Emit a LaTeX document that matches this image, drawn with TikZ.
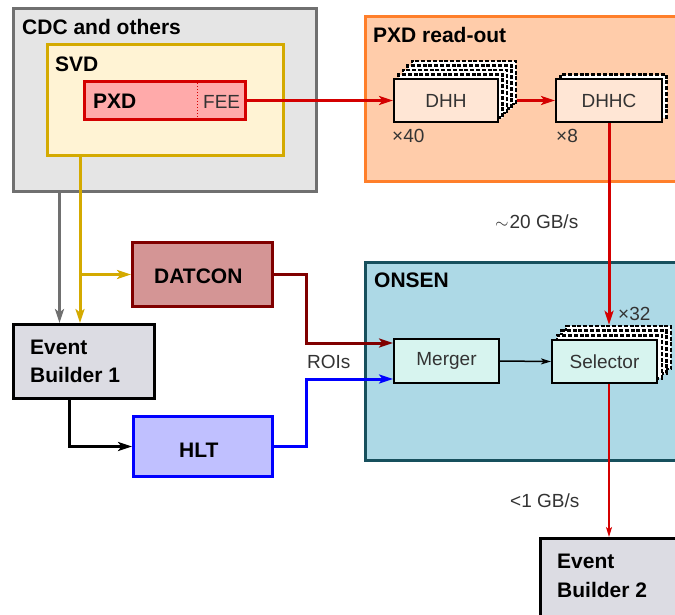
\documentclass[tikz,border=0pt]{standalone}
\usepackage{fontspec}
\setmainfont{Liberation Sans}
\usetikzlibrary{arrows.meta}
\definecolor{cdcline}{HTML}{707070}
\definecolor{cdcfill}{HTML}{E5E5E5}
\definecolor{svdline}{HTML}{D4AA00}
\definecolor{svdfill}{HTML}{FFF3D4}
\definecolor{pxdline}{HTML}{D40000}
\definecolor{pxdfill}{HTML}{FFAAAA}
\definecolor{roline}{HTML}{FF7F2A}
\definecolor{rofill}{HTML}{FFCCAA}
\definecolor{dhhfill}{HTML}{FFE6D5}
\definecolor{onsline}{HTML}{17505D}
\definecolor{onsfill}{HTML}{ADD9E6}
\definecolor{mfill}{HTML}{D7F4EF}
\definecolor{datline}{HTML}{800000}
\definecolor{datfill}{HTML}{D49595}
\definecolor{hltline}{HTML}{0000FF}
\definecolor{hltfill}{HTML}{C0C0FF}
\definecolor{ebfill}{HTML}{DCDCE3}
\definecolor{txtgray}{HTML}{333333}
\newcommand\lblbold{\fontsize{21}{25}\selectfont\bfseries}
\newcommand\lbltitle{\fontsize{21}{25}\selectfont\bfseries}
\newcommand\lblnorm{\fontsize{19}{23}\selectfont}
\begin{document}
\begin{tikzpicture}[x=1pt,y=-1pt,
  box/.style={draw, line width=3pt, inner sep=0pt},
  smallbox/.style={draw=black, line width=2pt, inner sep=0pt},
  backbox/.style={draw=black, fill=white, line width=2.4pt, inner sep=0pt,
     dash pattern=on 4pt off 1.8pt},
  tb/.style={inner sep=0pt, font=\lblbold, text=black},
  tt/.style={inner sep=0pt, font=\lbltitle, text=black},
  tn/.style={inner sep=0pt, font=\lblnorm, text=txtgray},
  thick arrow/.style={line width=3pt, -{Stealth[length=14pt,width=9pt,inset=3.5pt]}},
  thin arrow/.style={line width=1.5pt, -{Stealth[length=10pt,width=6pt,inset=2.5pt]}}]
\useasboundingbox (0,0) rectangle (675,614);
\clip (0,0) rectangle (675,614);
\fill[white] (0,0) rectangle (675,614);

% containers
\node[box, draw=cdcline, fill=cdcfill, minimum width=303pt, minimum height=183pt] (CDC) at (165,100) {};
\node[box, draw=svdline, fill=svdfill, minimum width=236pt, minimum height=111pt] (SVD) at (165.5,100) {};
\node[box, draw=pxdline, fill=pxdfill, minimum width=161pt, minimum height=38pt] (PXD) at (165,100.5) {};
\draw[pxdline, line width=1pt, dotted] ([xshift=114.5pt]PXD.north west) -- ([xshift=114.5pt]PXD.south west);
\node[box, draw=roline, fill=rofill, minimum width=354.5pt, minimum height=165pt] (RO) at (542.75,99) {};
\node[box, draw=onsline, fill=onsfill, minimum width=354.5pt, minimum height=198pt] (ONS) at (542.75,361.5) {};

% stacked boards
\foreach \k in {4,3,2,1}
  \node[backbox, minimum width=104pt, minimum height=43pt] (DHHb\k) at (446+4.5*\k,100.5-4.5*\k) {};
\node[smallbox, fill=dhhfill, minimum width=104pt, minimum height=43pt] (DHH) at (446,100.5) {};
\node[backbox, minimum width=106pt, minimum height=43pt] (DHHCb1) at (613.5,96) {};
\node[smallbox, fill=dhhfill, minimum width=106pt, minimum height=43pt] (DHHC) at (609,100.5) {};
\foreach \k in {3,2,1}
  \node[backbox, minimum width=105pt, minimum height=43pt] (SELb\k) at (604.5+4.7*\k,361.5-4.7*\k) {};
\node[smallbox, fill=mfill, minimum width=105pt, minimum height=43pt] (SEL) at (604.5,361.5) {};
\node[smallbox, fill=mfill, minimum width=105pt, minimum height=44pt] (MRG) at (446.5,361) {};

% left side boxes
\node[box, draw=datline, fill=datfill, minimum width=140pt, minimum height=64pt] (DAT) at (202.5,274.5) {};
\node[box, draw=hltline, fill=hltfill, minimum width=139pt, minimum height=60pt] (HLT) at (203,446.5) {};
\node[box, draw=black, fill=ebfill, minimum width=141pt, minimum height=74pt] (EB1) at (84,361.5) {};
\node[box, draw=black, fill=ebfill, minimum width=179.5pt, minimum height=121.5pt] (EB2) at (630.25,599.25) {};

% texts
\node[tt, anchor=base west] (tCDC) at (22,34) {CDC and others};
\node[tt, anchor=base west] (tSVD) at (55,71) {SVD};
\node[tb, anchor=base west] (tPXD) at (93,108) {PXD};
\node[tn, anchor=base west] (tFEE) at (203,108) {FEE};
\node[tt, anchor=base west] (tRO) at (373,42) {PXD read-out};
\node[tn] (tDHH) at (DHH) {DHH};
\node[tn, anchor=base west] (t40) at (392,142) {×40};
\node[tn] (tDHHC) at (DHHC) {DHHC};
\node[tn, anchor=base west] (t8) at (556,142) {×8};
\node[tn, anchor=base west] (t20) at (495,228) {$\sim$\kern1pt20 GB/s};
\node[tt, anchor=base west] (tONS) at (374,287) {ONSEN};
\node[tn] (tMRG) at (MRG) {Merger};
\node[tn] (tSEL) at (SEL) {Selector};
\node[tn, anchor=base west] (t32) at (618,320) {×32};
\node[tn, anchor=base west] (t1g) at (510,507) {<1 GB/s};
\node[tb, anchor=base west] (tEB2a) at (557,568) {Event};
\node[tb, anchor=base west] (tEB2b) at (557,597) {Builder 2};
\node[tb, anchor=base west] (tEB1a) at (30,354) {Event};
\node[tb, anchor=base west] (tEB1b) at (30,382) {Builder 1};
\node[tb, anchor=base west] (tDAT) at (154,283) {DATCON};
\node[tb, anchor=base west] (tHLT) at (179,457) {HLT};
\node[tn, anchor=base west] (tROI) at (307,368) {ROIs};

% connectors
\coordinate (gx) at (80,276);
\coordinate (rx) at (306,0);
\coordinate (m1) at ([yshift=18pt]MRG.west);
\coordinate (m2) at ([yshift=-18pt]MRG.west);
\draw[thick arrow, pxdline] (PXD.east) -- (DHH.west);
\draw[thick arrow, pxdline] (DHHb4.east |- DHH.east) -- (DHHC.west);
\draw[thick arrow, pxdline] (DHHC.south) -- (SELb3.north -| DHHC.south);
\draw[thin arrow, pxdline] (SEL.south -| DHHC.south) -- (EB2.north -| DHHC.south);
\draw[thin arrow, black] (MRG.east) -- (SEL.west);
\draw[thick arrow, cdcline] ([xshift=47.5pt]CDC.south west) -- ([xshift=47.5pt]EB1.north west);
\draw[thick arrow, svdline] (SVD.south -| gx) -- (EB1.north -| gx);
\draw[thick arrow, svdline] (gx |- DAT.west) -- (DAT.west);
\draw[thick arrow, datline] (DAT.east) -| (rx |- m1) -- (m1);
\draw[thick arrow, hltline] (HLT.east) -| (rx |- m2) -- (m2);
\draw[thick arrow, black] ([xshift=57.5pt]EB1.south west) |- (HLT.west);
\end{tikzpicture}
\end{document}
